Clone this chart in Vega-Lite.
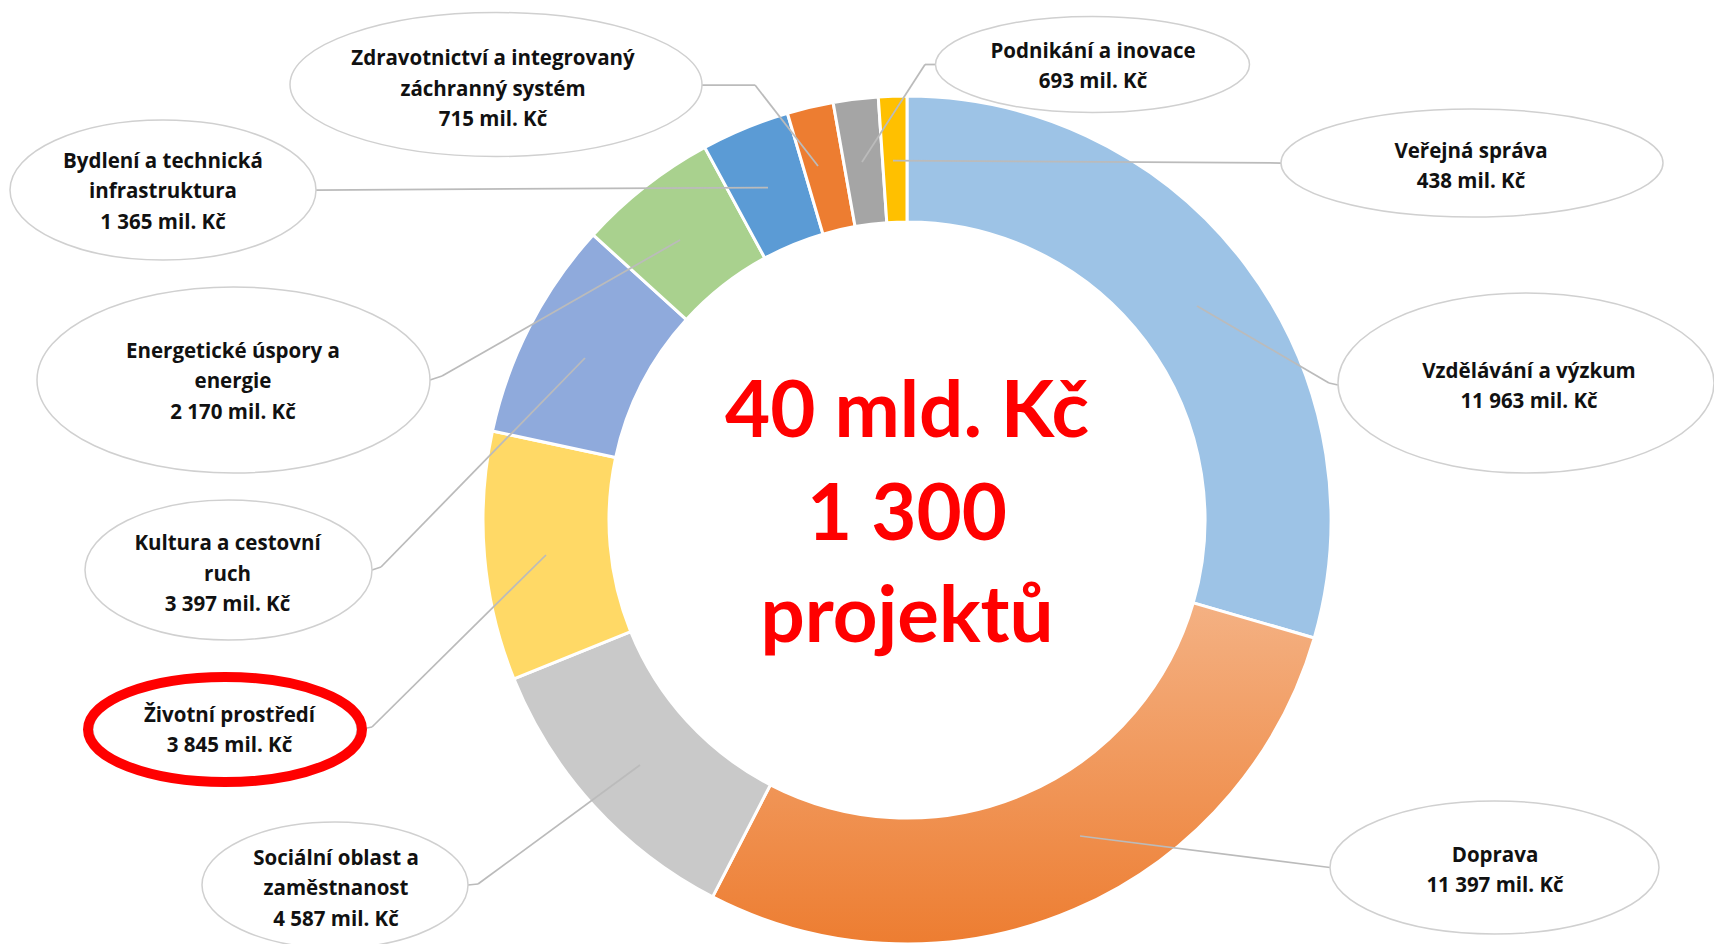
{
  "$schema": "https://vega.github.io/schema/vega-lite/v6.json",
  "width": 1714,
  "height": 944,
  "autosize": "none",
  "padding": 0,
  "background": "white",
  "config": {
    "view": {"stroke": null},
    "axis": {"disable": true},
    "legend": {"disable": true},
    "text": {"font": "Open Sans", "fontWeight": "bold", "fontSize": 20.5, "lineHeight": 30.5, "align": "center", "baseline": "middle", "lineBreak": "\n", "color": "#111111"},
    "rule": {"color": "#BBBBBB", "strokeWidth": 1.75},
    "point": {"filled": true, "fill": "#FFFFFF", "stroke": "#D0D0D0", "strokeWidth": 1.5, "opacity": 1}
  },
  "data": {
    "values": [
      {"rank": 1, "name": "Vzdělávání a výzkum", "value": 11963, "label": "Vzdělávání a výzkum\n11 963 mil. Kč"},
      {"rank": 2, "name": "Doprava", "value": 11397, "label": "Doprava\n11 397 mil. Kč"},
      {"rank": 3, "name": "Sociální oblast a zaměstnanost", "value": 4587, "label": "Sociální oblast a\nzaměstnanost\n4 587 mil. Kč"},
      {"rank": 4, "name": "Životní prostředí", "value": 3845, "label": "Životní prostředí\n3 845 mil. Kč"},
      {"rank": 5, "name": "Kultura a cestovní ruch", "value": 3397, "label": "Kultura a cestovní\nruch\n3 397 mil. Kč"},
      {"rank": 6, "name": "Energetické úspory a energie", "value": 2170, "label": "Energetické úspory a\nenergie\n2 170 mil. Kč"},
      {"rank": 7, "name": "Bydlení a technická infrastruktura", "value": 1365, "label": "Bydlení a technická\ninfrastruktura\n1 365 mil. Kč"},
      {"rank": 8, "name": "Zdravotnictví a integrovaný záchranný systém", "value": 715, "label": "Zdravotnictví a integrovaný\nzáchranný systém\n715 mil. Kč"},
      {"rank": 9, "name": "Podnikání a inovace", "value": 693, "label": "Podnikání a inovace\n693 mil. Kč"},
      {"rank": 10, "name": "Veřejná správa", "value": 438, "label": "Veřejná správa\n438 mil. Kč"}
    ]
  },
  "layer": [
    {
      "mark": {"type": "arc", "outerRadius": 424, "innerRadius": 298, "stroke": "white", "strokeWidth": 3},
      "encoding": {
        "x": {"datum": 0, "type": "quantitative", "scale": {"domain": [-2.13915, 1.90330], "nice": false, "zero": false}, "axis": null},
        "y": {"datum": 0, "type": "quantitative", "scale": {"domain": [-1.0, 1.22642], "nice": false, "zero": false}, "axis": null},
        "theta": {"field": "value", "type": "quantitative", "stack": true},
        "order": {"field": "rank", "type": "quantitative"},
        "color": {
          "condition": {"test": "datum.rank === 2", "value": {"gradient": "linear", "x1": 0, "y1": 0, "x2": 0, "y2": 1, "stops": [{"offset": 0, "color": "#F4B183"}, {"offset": 1, "color": "#ED7D31"}]}},
          "field": "name", "type": "nominal", "legend": null,
          "scale": {
            "domain": ["Vzdělávání a výzkum", "Doprava", "Sociální oblast a zaměstnanost", "Životní prostředí", "Kultura a cestovní ruch", "Energetické úspory a energie", "Bydlení a technická infrastruktura", "Zdravotnictví a integrovaný záchranný systém", "Podnikání a inovace", "Veřejná správa"],
            "range": ["#9DC3E6", "#F1955A", "#C9C9C9", "#FFD966", "#8FAADC", "#A9D18E", "#5B9BD5", "#ED7D31", "#A5A5A5", "#FFC000"]
          }
        }
      }
    },
    {
      "transform": [{"filter": "datum.rank === 1"}],
      "layer": [
        {"mark": "rule", "encoding": {"x": {"datum": 1.01651}, "y": {"datum": 0.31840}, "x2": {"datum": 0.99528}, "y2": {"datum": 0.32311}}},
        {"mark": "rule", "encoding": {"x": {"datum": 0.99528}, "y": {"datum": 0.32311}, "x2": {"datum": 0.68396}, "y2": {"datum": 0.50472}}},
        {"mark": {"type": "point", "size": 141376, "shape": "M-1,0C-1,-0.2644 -0.5523,-0.4787 0,-0.4787C0.5523,-0.4787 1,-0.2644 1,0C1,0.2644 0.5523,0.4787 0,0.4787C-0.5523,0.4787 -1,0.2644 -1,0Z"}, "encoding": {"x": {"datum": 1.45991}, "y": {"datum": 0.32311}}},
        {"mark": "text", "encoding": {"x": {"datum": 1.46698}, "y": {"datum": 0.34965}, "text": {"field": "label"}}}
      ]
    },
    {
      "transform": [{"filter": "datum.rank === 2"}],
      "layer": [
        {"mark": "rule", "encoding": {"x": {"datum": 0.99764}, "y": {"datum": -0.81958}, "x2": {"datum": 0.96934}, "y2": {"datum": -0.81604}}},
        {"mark": "rule", "encoding": {"x": {"datum": 0.96934}, "y": {"datum": -0.81604}, "x2": {"datum": 0.40802}, "y2": {"datum": -0.74528}}},
        {"mark": {"type": "point", "size": 108241, "shape": "M-1,0C-1,-0.2233 -0.5523,-0.4043 0,-0.4043C0.5523,-0.4043 1,-0.2233 1,0C1,0.2233 0.5523,0.4043 0,0.4043C-0.5523,0.4043 -1,0.2233 -1,0Z"}, "encoding": {"x": {"datum": 1.38561}, "y": {"datum": -0.81958}}},
        {"mark": "text", "encoding": {"x": {"datum": 1.38679}, "y": {"datum": -0.79186}, "text": {"field": "label"}}}
      ]
    },
    {
      "transform": [{"filter": "datum.rank === 3"}],
      "layer": [
        {"mark": "rule", "encoding": {"x": {"datum": -1.03538}, "y": {"datum": -0.86085}, "x2": {"datum": -1.01179}, "y2": {"datum": -0.85849}}},
        {"mark": "rule", "encoding": {"x": {"datum": -1.01179}, "y": {"datum": -0.85849}, "x2": {"datum": -0.62972}, "y2": {"datum": -0.57783}}},
        {"mark": {"type": "point", "size": 70756, "shape": "M-1,0C-1,-0.2616 -0.5523,-0.4737 0,-0.4737C0.5523,-0.4737 1,-0.2616 1,0C1,0.2616 0.5523,0.4737 0,0.4737C-0.5523,0.4737 -1,0.2616 -1,0Z"}, "encoding": {"x": {"datum": -1.34906}, "y": {"datum": -0.86085}}},
        {"mark": "text", "encoding": {"x": {"datum": -1.34670}, "y": {"datum": -0.79835}, "text": {"field": "label"}}}
      ]
    },
    {
      "transform": [{"filter": "datum.rank === 4"}],
      "layer": [
        {"mark": "rule", "encoding": {"x": {"datum": -1.28538}, "y": {"datum": -0.49292}, "x2": {"datum": -1.26179}, "y2": {"datum": -0.48821}}},
        {"mark": "rule", "encoding": {"x": {"datum": -1.26179}, "y": {"datum": -0.48821}, "x2": {"datum": -0.85142}, "y2": {"datum": -0.08255}}},
        {"mark": {"type": "point", "size": 69696, "shape": "M-1,0C-1,-0.2092 -0.5523,-0.3788 0,-0.3788C0.5523,-0.3788 1,-0.2092 1,0C1,0.2092 0.5523,0.3788 0,0.3788C-0.5523,0.3788 -1,0.2092 -1,0Z"}, "encoding": {"x": {"datum": -1.60849}, "y": {"datum": -0.49410}}},
        {"mark": {"type": "point", "size": 75076, "filled": false, "fill": null, "stroke": "#FF0000", "strokeWidth": 10, "shape": "M-1,0C-1,-0.2116 -0.5523,-0.3832 0,-0.3832C0.5523,-0.3832 1,-0.2116 1,0C1,0.2116 0.5523,0.3832 0,0.3832C-0.5523,0.3832 -1,0.2116 -1,0Z"}, "encoding": {"x": {"datum": -1.60849}, "y": {"datum": -0.49410}}},
        {"mark": "text", "encoding": {"x": {"datum": -1.59788}, "y": {"datum": -0.46167}, "text": {"field": "label"}}}
      ]
    },
    {
      "transform": [{"filter": "datum.rank === 5"}],
      "layer": [
        {"mark": "rule", "encoding": {"x": {"datum": -1.26179}, "y": {"datum": -0.11792}, "x2": {"datum": -1.24057}, "y2": {"datum": -0.11085}}},
        {"mark": "rule", "encoding": {"x": {"datum": -1.24057}, "y": {"datum": -0.11085}, "x2": {"datum": -0.75943}, "y2": {"datum": 0.38208}}},
        {"mark": {"type": "point", "size": 82369, "shape": "M-1,0C-1,-0.2694 -0.5523,-0.4878 0,-0.4878C0.5523,-0.4878 1,-0.2694 1,0C1,0.2694 0.5523,0.4878 0,0.4878C-0.5523,0.4878 -1,0.2694 -1,0Z"}, "encoding": {"x": {"datum": -1.60024}, "y": {"datum": -0.11792}}},
        {"mark": "text", "encoding": {"x": {"datum": -1.60259}, "y": {"datum": -0.05661}, "text": {"field": "label"}}}
      ]
    },
    {
      "transform": [{"filter": "datum.rank === 6"}],
      "layer": [
        {"mark": "rule", "encoding": {"x": {"datum": -1.12500}, "y": {"datum": 0.33019}, "x2": {"datum": -1.09670}, "y2": {"datum": 0.33962}}},
        {"mark": "rule", "encoding": {"x": {"datum": -1.09670}, "y": {"datum": 0.33962}, "x2": {"datum": -0.53538}, "y2": {"datum": 0.66038}}},
        {"mark": {"type": "point", "size": 154449, "shape": "M-1,0C-1,-0.2614 -0.5523,-0.4733 0,-0.4733C0.5523,-0.4733 1,-0.2614 1,0C1,0.2614 0.5523,0.4733 0,0.4733C-0.5523,0.4733 -1,0.2614 -1,0Z"}, "encoding": {"x": {"datum": -1.58844}, "y": {"datum": 0.33019}}},
        {"mark": "text", "encoding": {"x": {"datum": -1.58962}, "y": {"datum": 0.39740}, "text": {"field": "label"}}}
      ]
    },
    {
      "transform": [{"filter": "datum.rank === 7"}],
      "layer": [
        {"mark": "rule", "encoding": {"x": {"datum": -1.39387}, "y": {"datum": 0.77830}, "x2": {"datum": -0.32783}, "y2": {"datum": 0.78420}}},
        {"mark": {"type": "point", "size": 93636, "shape": "M-1,0C-1,-0.2527 -0.5523,-0.4575 0,-0.4575C0.5523,-0.4575 1,-0.2527 1,0C1,0.2527 0.5523,0.4575 0,0.4575C-0.5523,0.4575 -1,0.2527 -1,0Z"}, "encoding": {"x": {"datum": -1.75472}, "y": {"datum": 0.77830}}},
        {"mark": "text", "encoding": {"x": {"datum": -1.75472}, "y": {"datum": 0.84551}, "text": {"field": "label"}}}
      ]
    },
    {
      "transform": [{"filter": "datum.rank === 8"}],
      "layer": [
        {"mark": "rule", "encoding": {"x": {"datum": -0.48349}, "y": {"datum": 1.02594}, "x2": {"datum": -0.35849}, "y2": {"datum": 1.02594}}},
        {"mark": "rule", "encoding": {"x": {"datum": -0.35849}, "y": {"datum": 1.02594}, "x2": {"datum": -0.20991}, "y2": {"datum": 0.83491}}},
        {"mark": {"type": "point", "size": 169744, "shape": "M-1,0C-1,-0.1930 -0.5523,-0.3495 0,-0.3495C0.5523,-0.3495 1,-0.1930 1,0C1,0.1930 0.5523,0.3495 0,0.3495C-0.5523,0.3495 -1,0.1930 -1,0Z"}, "encoding": {"x": {"datum": -0.96934}, "y": {"datum": 1.02712}}},
        {"mark": "text", "encoding": {"x": {"datum": -0.97642}, "y": {"datum": 1.08680}, "text": {"field": "label"}}}
      ]
    },
    {
      "transform": [{"filter": "datum.rank === 9"}],
      "layer": [
        {"mark": "rule", "encoding": {"x": {"datum": 0.06840}, "y": {"datum": 1.07429}, "x2": {"datum": 0.04245}, "y2": {"datum": 1.07429}}},
        {"mark": "rule", "encoding": {"x": {"datum": 0.04245}, "y": {"datum": 1.07429}, "x2": {"datum": -0.10613}, "y2": {"datum": 0.84434}}},
        {"mark": {"type": "point", "size": 98596, "shape": "M-1,0C-1,-0.1688 -0.5523,-0.3057 0,-0.3057C0.5523,-0.3057 1,-0.1688 1,0C1,0.1688 0.5523,0.3057 0,0.3057C-0.5523,0.3057 -1,0.1688 -1,0Z"}, "encoding": {"x": {"datum": 0.43750}, "y": {"datum": 1.07429}}},
        {"mark": "text", "encoding": {"x": {"datum": 0.43868}, "y": {"datum": 1.10436}, "text": {"field": "label"}}}
      ]
    },
    {
      "transform": [{"filter": "datum.rank === 10"}],
      "layer": [
        {"mark": "rule", "encoding": {"x": {"datum": 0.88208}, "y": {"datum": 0.84198}, "x2": {"datum": -0.03302}, "y2": {"datum": 0.84788}}},
        {"mark": {"type": "point", "size": 145924, "shape": "M-1,0C-1,-0.1561 -0.5523,-0.2827 0,-0.2827C0.5523,-0.2827 1,-0.1561 1,0C1,0.1561 0.5523,0.2827 0,0.2827C-0.5523,0.2827 -1,0.1561 -1,0Z"}, "encoding": {"x": {"datum": 1.33255}, "y": {"datum": 0.84198}}},
        {"mark": "text", "encoding": {"x": {"datum": 1.33019}, "y": {"datum": 0.86852}, "text": {"field": "label"}}}
      ]
    },
    {
      "data": {"values": [{"headline": "40 mld. Kč\n1 300\nprojektů"}]},
      "mark": {"type": "text", "font": "Lato", "fontSize": 78, "lineHeight": 102.5, "color": "#FF0000"},
      "encoding": {"x": {"datum": 0}, "y": {"datum": 0.24975}, "text": {"field": "headline"}}
    }
  ]
}
